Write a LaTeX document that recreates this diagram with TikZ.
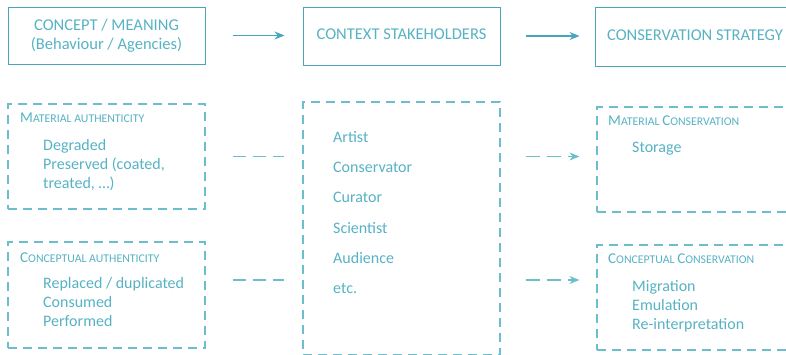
\documentclass[tikz,border=0pt]{standalone}
\usepackage{fontspec}
\setmainfont{Carlito}
\usetikzlibrary{arrows.meta,positioning}

\definecolor{tealline}{RGB}{72,166,186}
\definecolor{tealdash}{RGB}{108,190,204}
\definecolor{tealtext}{RGB}{86,178,196}

% hand-made small caps: big initial, smaller rest
\newcommand{\scapt}[2]{{\fontsize{15}{16}\selectfont #1}{\fontsize{11.8}{13}\selectfont #2}}

\tikzset{
  headbox/.style={draw=tealline, line width=1pt, minimum width=197pt,
    minimum height=57pt, text=tealtext, align=center,
    font=\fontsize{16.5}{19}\selectfont},
  groupbox/.style={draw=tealdash, line width=1.2pt,
    dash pattern=on 9pt off 6pt, minimum width=197pt},
  grouptitle/.style={anchor=base west, inner sep=0pt, text=tealtext},
  item/.style={anchor=base west, inner sep=0pt, text=tealtext,
    font=\fontsize{16}{19}\selectfont},
  flowarrow/.style={draw=tealline, line width=1.1pt,
    -{Stealth[length=10pt,width=8pt]}},
  dashlink/.style={draw=tealdash, line width=1.2pt,
    dash pattern=on 13pt off 7pt},
  dasharrow/.style={dashlink, dash pattern=on 14pt off 7pt,
    -{Stealth[length=10pt,width=8pt]}},
}

\begin{document}
\begin{tikzpicture}[x=1pt,y=-1pt]
  \useasboundingbox (0,0) rectangle (786,354);

  % top row
  \node[headbox] (concept) at (106.5,35.5) {CONCEPT / MEANING\\(Behaviour / Agencies)};
  \node[headbox, minimum height=58pt, text depth=3pt] (context) at (401.5,36) {CONTEXT STAKEHOLDERS};
  \node[headbox, minimum width=200pt, minimum height=59pt, text depth=3pt] (strategy) at (695,36.5) {CONSERVATION STRATEGY};

  \draw[flowarrow, shorten <=27pt, shorten >=18pt] (concept.east) -- (concept.east -| context.west);
  \draw[flowarrow, shorten <=25pt, shorten >=15pt] (context.east) -- (context.east -| strategy.west);

  % authenticity groups
  \node[groupbox, minimum height=105pt] (matauth) at (106.5,156.5) {};
  \node[grouptitle] at (20,122) {\scapt{M}{ATERIAL AUTHENTICITY}};
  \node[item] at (43,150) {Degraded};
  \node[item] at (43,169) {Preserved (coated,};
  \node[item] at (43,188) {treated, \dots)};

  \node[groupbox, minimum height=106pt] (conauth) at (106.5,295) {};
  \node[grouptitle] at (20,262) {\scapt{C}{ONCEPTUAL AUTHENTICITY}};
  \node[item] at (43,288) {Replaced / duplicated};
  \node[item] at (43,307) {Consumed};
  \node[item] at (43,326) {Performed};

  % stakeholders
  \node[groupbox, minimum height=253pt] (stake) at (401.5,228.5) {};
  \foreach \who/\y [count=\i] in {Artist/142, Conservator/172, Curator/202,
      Scientist/233, Audience/263, etc./293}
    \node[item] (who-\i) at (333,\y) {\who};

  % conservation groups
  \node[groupbox, minimum width=198pt, minimum height=105pt] (matcons) at (696,159.5) {};
  \node[grouptitle] at (608,125) {\scapt{M}{ATERIAL }\scapt{C}{ONSERVATION}};
  \node[item] at (632,152) {Storage};

  \node[groupbox, minimum width=198pt, minimum height=105pt] (concons) at (696,297.5) {};
  \node[grouptitle] at (608,263) {\scapt{C}{ONCEPTUAL }\scapt{C}{ONSERVATION}};
  \node[item] at (632,291) {Migration};
  \node[item] at (632,310) {Emulation};
  \node[item] at (632,329) {Re-interpretation};

  % dashed links
  \draw[dashlink, shorten <=27pt, shorten >=18pt] (matauth.east) -- (matauth.east -| stake.west);
  \draw[dashlink, shorten <=27pt, shorten >=18pt] ([yshift=15pt]conauth.east) -- ([yshift=15pt]conauth.east -| stake.west);
  \draw[dasharrow, shorten <=25pt, shorten >=17pt] (stake.east |- matauth.east) -- (matcons.west |- matauth.east);
  \draw[dasharrow, shorten <=25pt, shorten >=17pt] ([yshift=15pt]stake.east |- conauth.east) -- ([yshift=15pt]concons.west |- conauth.east);

\end{tikzpicture}
\end{document}
